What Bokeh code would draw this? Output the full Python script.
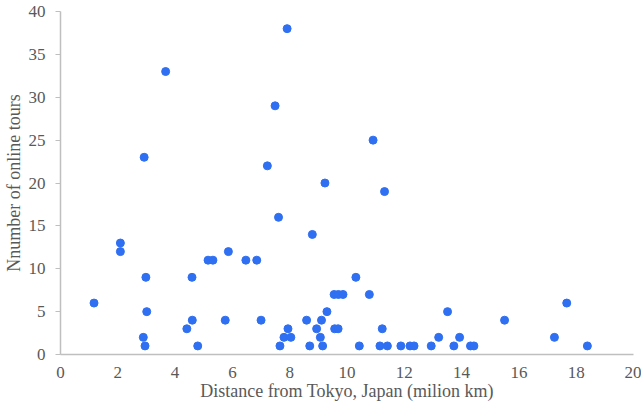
from bokeh.plotting import figure
from bokeh.models import Range1d, FixedTicker, ColumnDataSource
from bokeh.embed import file_html
from bokeh.resources import INLINE

distance = [1.17, 2.09, 2.09, 2.92, 3.67, 2.98, 3.01, 2.89, 2.95, 4.59, 4.60, 4.41, 4.79,
            5.15, 5.32, 5.86, 5.75, 6.47, 6.85, 7.00, 7.22, 7.49, 7.61, 7.91, 7.66, 7.80,
            7.94, 8.04, 8.59, 8.70, 8.79, 8.94, 9.11, 9.07, 9.15, 9.23, 9.30, 9.55, 9.70,
            9.86, 9.57, 9.69, 10.31, 10.43, 10.78, 10.91, 11.23, 11.15, 11.31, 11.41,
            11.88, 12.20, 12.34, 12.94, 13.20, 13.51, 13.73, 13.93, 14.31, 14.43, 15.50,
            17.24, 17.67, 18.39]
tours = [6, 13, 12, 23, 33, 9, 5, 2, 1, 9, 4, 3, 1,
         11, 11, 12, 4, 11, 11, 4, 22, 29, 16, 38, 1, 2,
         3, 2, 4, 1, 14, 3, 4, 2, 1, 20, 5, 7, 7,
         7, 3, 3, 9, 1, 7, 25, 3, 1, 19, 1,
         1, 1, 1, 1, 2, 5, 1, 2, 1, 1, 4,
         2, 6, 1]
x_ticks = [0, 2, 4, 6, 8, 10, 12, 14, 16, 18, 20]
y_ticks = [0, 5, 10, 15, 20, 25, 30, 35, 40]

src = ColumnDataSource(dict(x=distance, y=tours))

p = figure(frame_width=573, frame_height=343, output_backend="svg", toolbar_location=None,
           x_range=Range1d(0, 20), y_range=Range1d(0, 40),
           min_border_left=60, min_border_top=11, min_border_right=8, min_border_bottom=50)
p.outline_line_color = None
p.xgrid.grid_line_color = None
p.ygrid.grid_line_color = None

p.scatter("x", "y", source=src, size=8, color="#2F6FF2", line_color="#2F6FF2")

FONT = "Liberation Serif"
for ax in (p.xaxis[0], p.yaxis[0]):
    ax.axis_line_color = "#BFBFBF"
    ax.axis_line_width = 1.5
    ax.major_label_text_font = FONT
    ax.major_label_text_font_size = "17px"
    ax.major_label_text_color = "#595959"
    ax.axis_label_text_font = FONT
    ax.axis_label_text_font_size = "18px"
    ax.axis_label_text_color = "#595959"
    ax.axis_label_text_font_style = "normal"
    ax.minor_tick_line_color = None

p.xaxis.ticker = FixedTicker(ticks=x_ticks)
p.yaxis.ticker = FixedTicker(ticks=y_ticks)
p.xaxis.major_tick_line_color = None
p.xaxis.major_tick_out = 0
p.xaxis.major_tick_in = 0
p.xaxis.major_label_standoff = 12
p.yaxis.major_tick_line_color = "#BFBFBF"
p.yaxis.major_tick_out = 5
p.yaxis.major_tick_in = 0
p.yaxis.major_label_standoff = 10
p.xaxis.axis_label = "Distance from Tokyo, Japan (milion km)"
p.yaxis.axis_label = "Nnumber of online tours"
p.xaxis.axis_label_standoff = 0
p.yaxis.axis_label_standoff = 2

open("out.html", "w").write(file_html(p, INLINE))
